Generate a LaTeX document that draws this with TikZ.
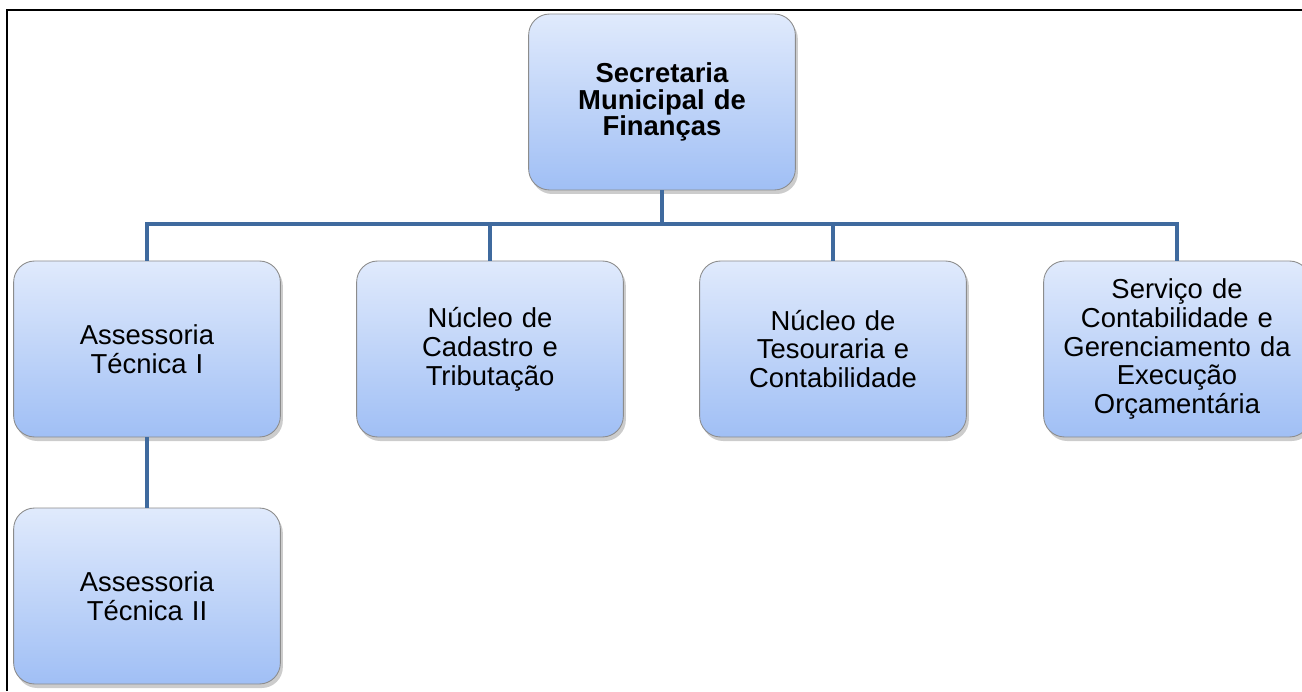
\documentclass[tikz,border=0pt]{standalone}
\usepackage{fontspec}
\setmainfont{Liberation Sans}
\usetikzlibrary{shadows}

\definecolor{boxtop}{HTML}{E0EAFC}
\definecolor{boxbot}{HTML}{A0BFF5}
\definecolor{boxedge}{HTML}{8C8C8C}
\definecolor{linkblue}{HTML}{3F6A9E}

\begin{document}
\begin{tikzpicture}[
        unit/.style={rectangle, rounded corners=0.42cm, draw=boxedge, line width=0.5pt,
            top color=boxtop, bottom color=boxbot,
            minimum width=5.28cm, minimum height=3.52cm, text width=5.1cm, align=center,
            font=\fontsize{15.6}{16.4}\selectfont,
            drop shadow={shadow xshift=0.05cm, shadow yshift=-0.08cm, opacity=0.4}},
        link/.style={draw=linkblue, line width=0.09cm}
    ]
    \useasboundingbox (0,0) rectangle (26.04,13.82);

    % Frame
    \draw[line width=0.04cm] (0.14,0) -- (0.14,13.62) -- (26.04,13.62);

    % Units
    \node[unit, font=\fontsize{15.6}{15.2}\selectfont\bfseries] (secretaria) at (13.24,11.78) {Secretaria\\Municipal de\\Finanças};
    \node[unit] (assessoriaI) at (2.94,6.84) {Assessoria\\Técnica I};
    \node[unit] (cadastro) at (9.80,6.84) {Núcleo de\\Cadastro e\\Tributação};
    \node[unit] (tesouraria) at (16.66,6.84) {Núcleo de\\Tesouraria e\\Contabilidade};
    \node[unit] (contabilidade) at (23.54,6.84) {Serviço de\\Contabilidade e\\Gerenciamento da\\Execução\\Orçamentária};
    \node[unit] (assessoriaII) at (2.94,1.90) {Assessoria\\Técnica II};

    % Links
    \coordinate (hub) at (13.24,9.34);
    \draw[link] (secretaria.south) -- (hub);
    \foreach \n in {assessoriaI,cadastro,tesouraria,contabilidade} {
        \draw[link] (hub) -| (\n.north);
    }
    \draw[link] (assessoriaI.south) -- (assessoriaII.north);
\end{tikzpicture}
\end{document}
